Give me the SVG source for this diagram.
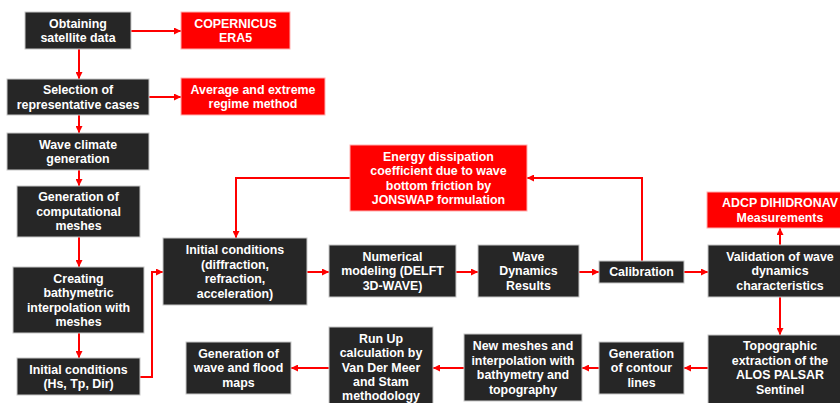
<svg xmlns="http://www.w3.org/2000/svg" width="840" height="403" viewBox="0 0 840 403">
<defs>
<marker id="ah" markerUnits="userSpaceOnUse" markerWidth="8" markerHeight="7" refX="7" refY="3.5" orient="auto">
<path d="M0,0 L7,3.5 L0,7 z" fill="#ff0000"/>
</marker>
</defs>
<style>
.d{fill:#262626;stroke:#c8c8c8;stroke-width:1}
.r{fill:#ff0000;stroke:#ffb0b0;stroke-width:1}
text{font-family:"Liberation Sans",Arial,sans-serif;font-size:12.4px;font-weight:bold;fill:#ffffff;text-anchor:middle}
.c path{fill:none;stroke:#ff0000;stroke-width:2;marker-end:url(#ah)}
</style>
<rect width="840" height="403" fill="#ffffff"/>
<g class="c" id="connectors">
<path d="M131,31 H181"/>
<path d="M79,49 V79"/>
<path d="M149,97 H181"/>
<path d="M79,115 V133"/>
<path d="M79,170 V186"/>
<path d="M79,237 V267"/>
<path d="M79,333 V358"/>
<path d="M140,377 H152 V272 H163"/>
<path d="M307,272 H329"/>
<path d="M456,272 H478"/>
<path d="M579,272 H599"/>
<path d="M684,272 H708"/>
<path d="M642,261 V178 H527"/>
<path d="M350,178 H236 V238"/>
<path d="M780,245 V228"/>
<path d="M780,297 V335"/>
<path d="M708,368 H684"/>
<path d="M599,368 H582"/>
<path d="M464,368 H433"/>
<path d="M329,368 H291"/>
</g>
<g id="n-obtaining"><rect class="d" x="25" y="12" width="106" height="37"/><text x="78" y="27.5">Obtaining<tspan x="78" dy="14.5">satellite data</tspan></text></g>
<g id="n-copernicus"><rect class="r" x="181" y="12" width="109" height="37"/><text x="235.5" y="27.5">COPERNICUS<tspan x="235.5" dy="14.5">ERA5</tspan></text></g>
<g id="n-selection"><rect class="d" x="7" y="79" width="142" height="36"/><text x="78" y="94">Selection of<tspan x="78" dy="14.5">representative cases</tspan></text></g>
<g id="n-average"><rect class="r" x="181" y="78" width="144" height="37"/><text x="253" y="93.5">Average and extreme<tspan x="253" dy="14.5">regime method</tspan></text></g>
<g id="n-climate"><rect class="d" x="7" y="133" width="142" height="37"/><text x="78" y="148.5">Wave climate<tspan x="78" dy="14.5">generation</tspan></text></g>
<g id="n-meshes"><rect class="d" x="17" y="186" width="123" height="51"/><text x="78.5" y="201.3">Generation of<tspan x="78.5" dy="14.5">computational</tspan><tspan x="78.5" dy="14.5">meshes</tspan></text></g>
<g id="n-bathy"><rect class="d" x="13" y="267" width="131" height="66"/><text x="78.5" y="282.5">Creating<tspan x="78.5" dy="14.5">bathymetric</tspan><tspan x="78.5" dy="14.5">interpolation with</tspan><tspan x="78.5" dy="14.5">meshes</tspan></text></g>
<g id="n-initial1"><rect class="d" x="17" y="358" width="123" height="37"/><text x="78.5" y="373.5">Initial conditions<tspan x="78.5" dy="14.5">(Hs, Tp, Dir)</tspan></text></g>
<g id="n-initial2"><rect class="d" x="163" y="238" width="144" height="67"/><text x="235" y="254">Initial conditions<tspan x="235" dy="14.5">(diffraction,</tspan><tspan x="235" dy="14.5">refraction,</tspan><tspan x="235" dy="14.5">acceleration)</tspan></text></g>
<g id="n-numerical"><rect class="d" x="329" y="245" width="127" height="52"/><text x="392.5" y="260.8">Numerical<tspan x="392.5" dy="14.5">modeling (DELFT</tspan><tspan x="392.5" dy="14.5">3D-WAVE)</tspan></text></g>
<g id="n-results"><rect class="d" x="478" y="245" width="101" height="52"/><text x="528.5" y="260.8">Wave<tspan x="528.5" dy="14.5">Dynamics</tspan><tspan x="528.5" dy="14.5">Results</tspan></text></g>
<g id="n-calibration"><rect class="d" x="599" y="261" width="85" height="22"/><text x="641.5" y="276.3">Calibration</text></g>
<g id="n-energy"><rect class="r" x="350" y="145" width="177" height="66"/><text x="438.5" y="160.5">Energy dissipation<tspan x="438.5" dy="14.5">coefficient due to wave</tspan><tspan x="438.5" dy="14.5">bottom friction by</tspan><tspan x="438.5" dy="14.5">JONSWAP formulation</tspan></text></g>
<g id="n-adcp"><rect class="r" x="707" y="192" width="140" height="36"/><text x="780" y="207">ADCP DIHIDRONAV<tspan x="780" dy="14.5">Measurements</tspan></text></g>
<g id="n-validation"><rect class="d" x="708" y="245" width="140" height="52"/><text x="780" y="260.8">Validation of wave<tspan x="780" dy="14.5">dynamics</tspan><tspan x="780" dy="14.5">characteristics</tspan></text></g>
<g id="n-topo"><rect class="d" x="708" y="335" width="140" height="75"/><text x="780" y="350">Topographic<tspan x="780" dy="14.5">extraction of the</tspan><tspan x="780" dy="14.5">ALOS PALSAR</tspan><tspan x="780" dy="14.5">Sentinel</tspan></text></g>
<g id="n-contour"><rect class="d" x="599" y="342" width="85" height="52"/><text x="641.5" y="357.8">Generation<tspan x="641.5" dy="14.5">of contour</tspan><tspan x="641.5" dy="14.5">lines</tspan></text></g>
<g id="n-newmeshes"><rect class="d" x="464" y="334" width="118" height="67"/><text x="523" y="350">New meshes and<tspan x="523" dy="14.5">interpolation with</tspan><tspan x="523" dy="14.5">bathymetry and</tspan><tspan x="523" dy="14.5">topography</tspan></text></g>
<g id="n-runup"><rect class="d" x="329" y="327" width="104" height="83"/><text x="381" y="343">Run Up<tspan x="381" dy="14.3">calculation by</tspan><tspan x="381" dy="14.3">Van Der Meer</tspan><tspan x="381" dy="14.3">and Stam</tspan><tspan x="381" dy="14.3">methodology</tspan></text></g>
<g id="n-maps"><rect class="d" x="186" y="342" width="105" height="52"/><text x="238.5" y="357.8">Generation of<tspan x="238.5" dy="14.5">wave and flood</tspan><tspan x="238.5" dy="14.5">maps</tspan></text></g>
</svg>
